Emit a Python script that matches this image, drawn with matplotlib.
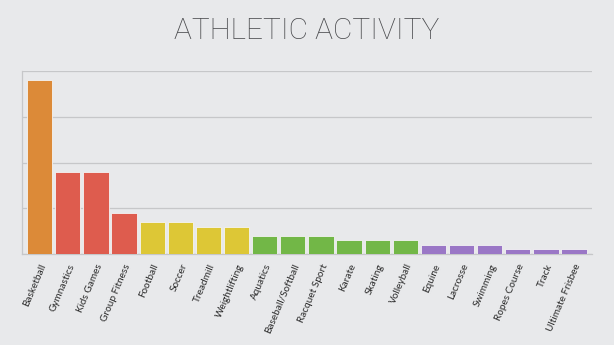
import matplotlib
matplotlib.use("Agg")
import matplotlib.pyplot as plt
import numpy as np

activities = [
    "Basketball", "Gymnastics", "Kids Games", "Group Fitness", "Football",
    "Soccer", "Treadmill", "Weightlifting", "Aquatics", "Baseball/Softball",
    "Racquet Sport", "Karate", "Skating", "Volleyball", "Equine",
    "Lacrosse", "Swimming", "Ropes Course", "Track", "Ultimate Frisbee",
]
counts = [38, 18, 18, 9, 7, 7, 6, 6, 4, 4, 4, 3, 3, 3, 2, 2, 2, 1, 1, 1]
groups = ["orange", "red", "red", "red", "yellow", "yellow", "yellow", "yellow",
          "green", "green", "green", "green", "green", "green",
          "purple", "purple", "purple", "purple", "purple", "purple"]

palette = {
    "orange": "#DC8A38",
    "red": "#DE5C4E",
    "yellow": "#DDC736",
    "green": "#72B747",
    "purple": "#9A77C6",
}

bg = "#E8E9EB"
fig = plt.figure(figsize=(6.14, 3.45), dpi=100, facecolor=bg)
ax = fig.add_axes([22 / 614, 1 - 254 / 345, 570 / 614, 183 / 345])
ax.set_facecolor(bg)

x = np.arange(len(activities))
ax.bar(x, counts, width=0.9, color=[palette[g] for g in groups],
       edgecolor="#F4F4F4", linewidth=0.6, zorder=3)

ax.set_xlim(-0.63, 19.64)
ax.set_ylim(0, 40)
ax.set_yticks([0, 10, 20, 30, 40])
ax.yaxis.grid(True, color="#C6C7C9", lw=0.9, zorder=0)
ax.tick_params(axis="y", length=0, labelleft=False)
ax.tick_params(axis="x", length=0, pad=6)
for side in ("top", "right"):
    ax.spines[side].set_visible(False)
for side in ("left", "bottom"):
    ax.spines[side].set_color("#C6C7C9")
    ax.spines[side].set_linewidth(0.9)

ax.set_xticks(x)
ax.set_xticklabels(activities, rotation=67, ha="right", va="top",
                   rotation_mode="anchor", fontsize=7.2, color="#2A2A2A",
                   family="Lato")

fig.text(0.5, 1 - 31 / 345, "ATHLETIC ACTIVITY", ha="center", va="center",
         fontsize=21.5, color="#4A4B4E", family="Roboto", fontweight="light")

fig.savefig("out.png", dpi=100, facecolor=bg)
